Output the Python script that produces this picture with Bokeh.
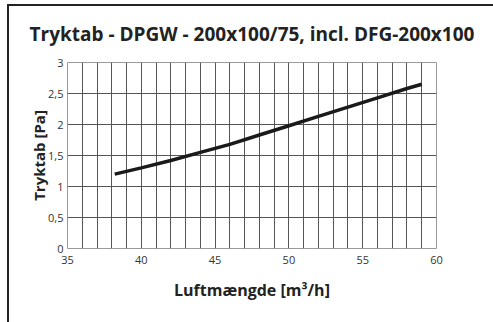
from bokeh.plotting import figure
from bokeh.models import (FixedTicker, CustomJSTickFormatter, Title, Range1d, InlineStyleSheet)
from bokeh.embed import file_html
from bokeh.resources import INLINE

title_text = "Tryktab - DPGW - 200x100/75, incl. DFG-200x100"
x_label = "Luftmængde [m³/h]"
y_label = "Tryktab [Pa]"

airflow = [38.2, 40, 42, 44, 46, 48, 50, 52, 54, 56, 58, 59]
pressure = [1.2, 1.3, 1.42, 1.55, 1.68, 1.83, 1.98, 2.13, 2.28, 2.43, 2.58, 2.65]

x_ticks = [35, 40, 45, 50, 55, 60]
y_ticks = [0, 0.5, 1, 1.5, 2, 2.5, 3]
x_grid = list(range(35, 61))

FONT = "Open Sans"

frame_css = InlineStyleSheet(css="""
:host { position: relative; overflow: hidden; }
:host::after { content: ''; position: absolute; left: 7px; top: 4px; right: -20px; bottom: -20px;
  border: 2px solid #222; pointer-events: none; z-index: 10; }
""")

p = figure(width=493, height=322, output_backend="svg", toolbar_location=None,
           x_range=Range1d(35, 60), y_range=Range1d(0, 3),
           min_border_left=67, min_border_right=57, min_border_top=62,
           min_border_bottom=74, stylesheets=[frame_css])
p.background_fill_color = "white"
p.border_fill_color = "white"
p.outline_line_color = "#9a9a9a"
p.outline_line_width = 1

p.line(airflow, pressure, line_color="#1a1a1a", line_width=3.5)

p.xaxis.ticker = FixedTicker(ticks=x_ticks)
p.yaxis.ticker = FixedTicker(ticks=y_ticks)
p.xgrid.ticker = FixedTicker(ticks=x_grid)
p.ygrid.ticker = FixedTicker(ticks=y_ticks)
p.grid.grid_line_color = "#555555"
p.grid.grid_line_width = 1
p.grid.grid_line_alpha = 1.0

p.yaxis.formatter = CustomJSTickFormatter(code="return tick.toString().replace('.', ',');")

for ax in (p.xaxis, p.yaxis):
    ax.axis_line_color = None
    ax.major_tick_line_color = None
    ax.minor_tick_line_color = None
    ax.major_tick_out = 0
    ax.major_tick_in = 0
    ax.minor_tick_out = 0
    ax.major_label_text_font = FONT
    ax.major_label_text_font_size = "11px"
    ax.major_label_text_color = "#333333"

p.xaxis.major_label_standoff = 7
p.yaxis.major_label_standoff = 4
p.xaxis.axis_label = x_label
p.xaxis.axis_label_text_font = FONT
p.xaxis.axis_label_text_font_style = "bold"
p.xaxis.axis_label_text_font_size = "16px"
p.xaxis.axis_label_text_color = "#222222"
p.xaxis.axis_label_standoff = 12

p.title.text = title_text
p.title.align = "center"
p.title.text_font = FONT
p.title.text_font_style = "bold"
p.title.text_font_size = "19px"
p.title.text_color = "#222222"
p.title.standoff = 32

ylab = Title(text=y_label, align="center", offset=20, standoff=-7,
             text_font=FONT, text_font_style="bold", text_font_size="15px",
             text_color="#222222")
p.add_layout(ylab, "left")

open("out.html", "w").write(file_html(p, INLINE))
